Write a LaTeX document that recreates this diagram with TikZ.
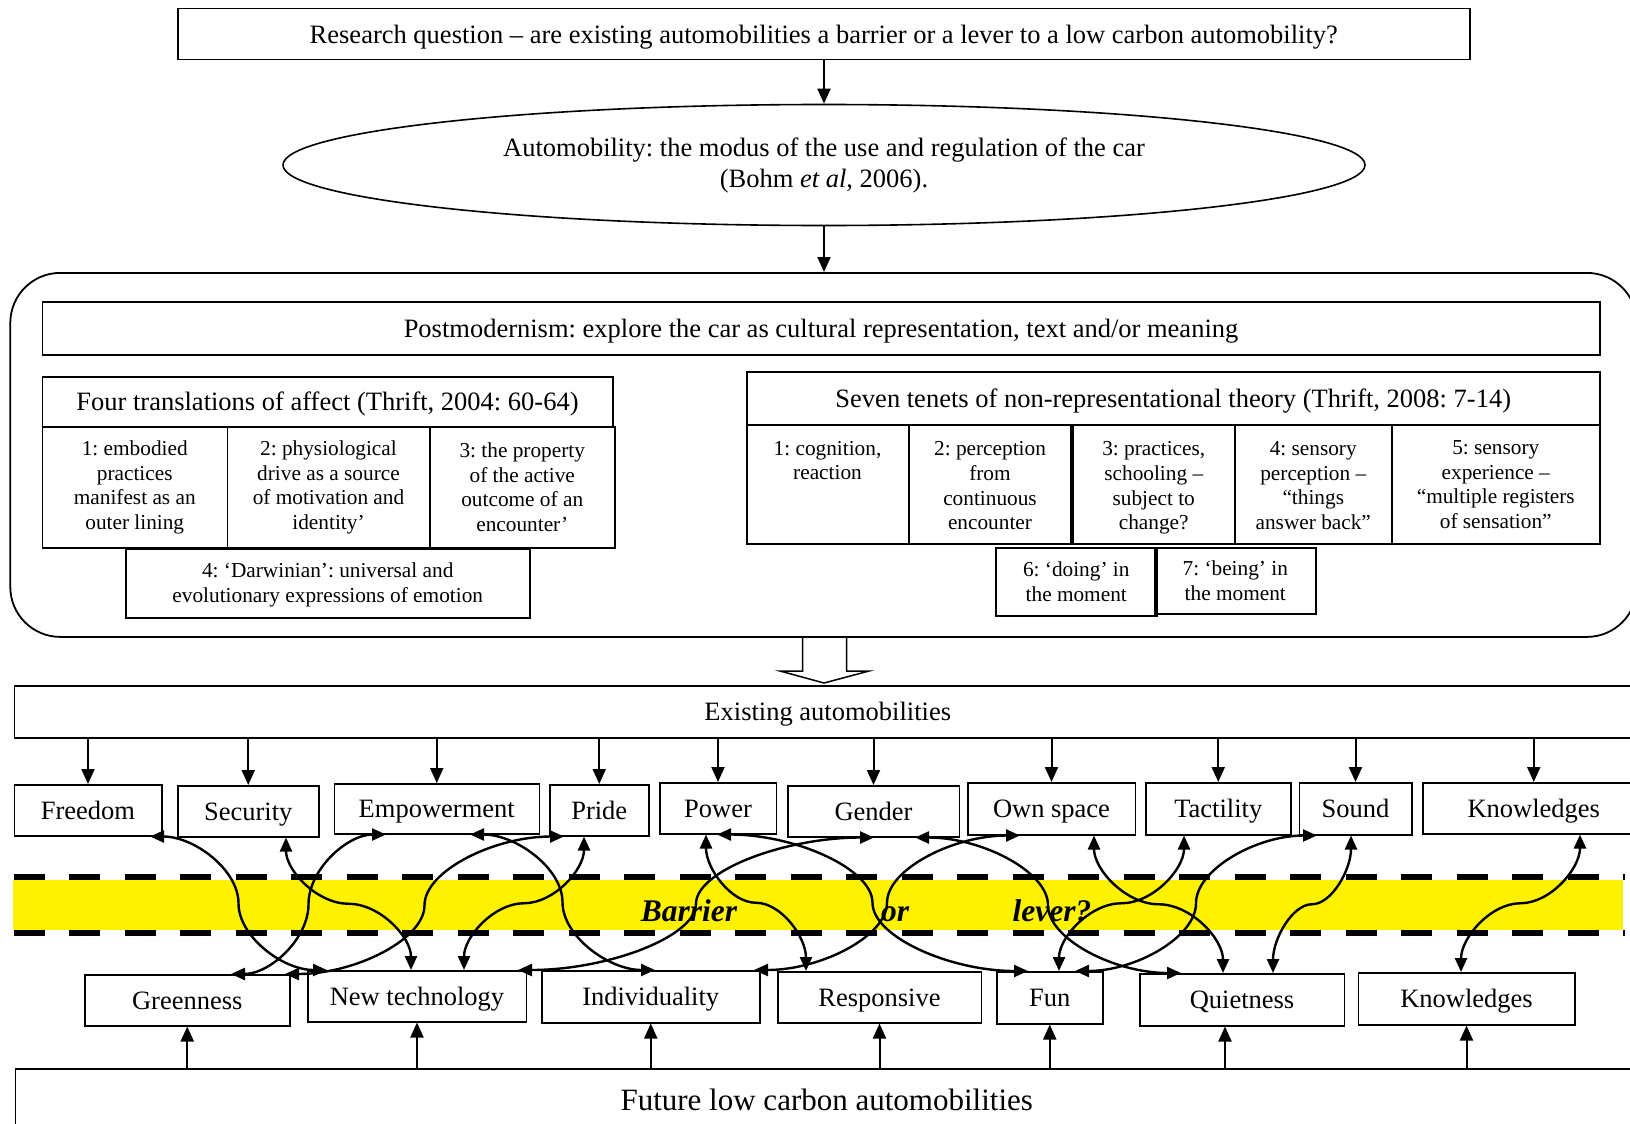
\documentclass[tikz,border=0pt]{standalone}
\usepackage{fontspec}
\setmainfont{Liberation Serif}
\usetikzlibrary{arrows.meta,shapes.geometric,calc}
\frenchspacing
\newcommand\fmain{\fontsize{26.5}{31}\selectfont}
\newcommand\fsmall{\fontsize{21.3}{24.6}\selectfont}
\newcommand\fbar{\fontsize{31.5}{36}\selectfont\bfseries\itshape}
\newcommand\ffut{\fontsize{31}{36}\selectfont}
\newcommand\connH[2]{\draw[curv] let \p1=(#1), \p2=(#2) in (\p1) .. controls ({(3*\x1+\x2)/4},\y1) and ({(\x1+\x2)/2},{(3*\y1+\y2)/4}) .. ({(\x1+\x2)/2},{(\y1+\y2)/2}) .. controls ({(\x1+\x2)/2},{(\y1+3*\y2)/4}) and ({(\x1+3*\x2)/4},\y2) .. (\p2);}
\newcommand\connV[2]{\draw[curv] let \p1=(#1), \p2=(#2) in (\p1) .. controls (\x1,{(3*\y1+\y2)/4}) and ({(3*\x1+\x2)/4},{(\y1+\y2)/2}) .. ({(\x1+\x2)/2},{(\y1+\y2)/2}) .. controls ({(\x1+3*\x2)/4},{(\y1+\y2)/2}) and (\x2,{(\y1+3*\y2)/4}) .. (\p2);}
\tikzset{
  box/.style={draw, line width=1.5pt, inner sep=0pt, anchor=north west, align=center},
  kw/.style={box, font=\fmain, text height=24pt, text depth=6pt},
  sm/.style={box, font=\fsmall},
  tx/.style={font=\fsmall, align=center, anchor=north, inner sep=0pt},
  bar/.style={font=\fbar, inner sep=0pt, anchor=base},
  varr/.style={line width=2pt, -{Triangle[length=15pt,width=13pt]}},
  curv/.style={line width=2.4pt, {Triangle[length=14pt,width=12pt]}-{Triangle[length=14pt,width=12pt]}},
}
\begin{document}
\begin{tikzpicture}[x=1pt,y=-1pt]
\useasboundingbox (0,0) rectangle (1630,1124);
\fill[white] (0,0) rectangle (1630,1124);
\clip (0,0) rectangle (1630,1124);

% top
\node[kw, minimum width=1292, minimum height=51] (rq) at (177,8) {Research question – are existing automobilities a barrier or a lever to a low carbon automobility?};
\node[draw, ellipse, line width=1.6pt, minimum width=1082, minimum height=121, inner sep=0pt, font=\fmain, align=center] (auto) at (824,165) {Automobility: the modus of the use and regulation of the car\\(Bohm \textit{et al}, 2006).};

% hollow arrow
\draw[line width=1.5pt, fill=white, line join=miter] (802.5,637.5) -- (802.5,671) -- (780,671) -- (824,683) -- (869,671) -- (846.5,671) -- (846.5,637.5);

% container
\node[draw, line width=1.8pt, rounded corners=50pt, minimum width=1626.6, minimum height=364, anchor=north west, inner sep=0pt] (post) at (9.4,272) {};
\draw[varr] (rq.south -| auto.north) -- (auto.north);
\draw[varr] (auto.south) -- (auto.south |- post.north);

\node[kw, minimum width=1557.5, minimum height=53] (pm) at (41.5,301) {Postmodernism: explore the car as cultural representation, text and/or meaning};

\node[kw, minimum width=570.5, minimum height=50] (fh) at (41.5,376) {Four translations of affect (Thrift, 2004: 60-64)};
\node[sm, minimum width=185, minimum height=121] (f1) at (41.5,426) {1: embodied\\practices\\manifest as an\\outer lining};
\node[sm, minimum width=202.5, minimum height=121] (f2) at (226.5,426) {2: physiological\\drive as a source\\of motivation and\\identity’};
\node[sm, minimum width=185, minimum height=121] (f3) at (429,426) {3: the property\\of the active\\outcome of an\\encounter’};
\node[sm, minimum width=404, minimum height=69] (f4) at (125,548) {};
\node[tx] (f4t) at ([yshift=-15pt]f4.north) {4: ‘Darwinian’: universal and\\evolutionary expressions of emotion};

\node[kw, minimum width=853, minimum height=53] (sh) at (746,371) {Seven tenets of non-representational theory (Thrift, 2008: 7-14)};
\node[sm, minimum width=161.5, minimum height=119] (s1) at (746,424) {};
\node[tx] (s1t) at ([yshift=-17pt]s1.north) {1: cognition,\\reaction};
\node[sm, minimum width=161.5, minimum height=119] (s2) at (908.5,424) {};
\node[tx] (s2t) at ([yshift=-17.5pt]s2.north) {2: perception\\from\\continuous\\encounter};
\node[sm, minimum width=162, minimum height=119] (s3) at (1072,424) {};
\node[tx] (s3t) at ([yshift=-17.5pt]s3.north) {3: practices,\\schooling –\\subject to\\change?};
\node[sm, minimum width=157, minimum height=119] (s4) at (1234,424) {};
\node[tx] (s4t) at ([yshift=-17.5pt]s4.north) {4: sensory\\perception –\\“things\\answer back”};
\node[sm, minimum width=208, minimum height=119] (s5) at (1391,424) {};
\node[tx] (s5t) at ([yshift=-16.5pt]s5.north) {5: sensory\\experience –\\“multiple registers\\of sensation”};
\node[sm, minimum width=161, minimum height=68] (s6) at (995,547) {6: ‘doing’ in\\the moment};
\node[sm, minimum width=161, minimum height=66] (s7) at (1154,547) {7: ‘being’ in\\the moment};

% existing
\node[kw, minimum width=1627, minimum height=52] (ex) at (13.5,685) {Existing automobilities};

\node[kw, minimum width=147.5, minimum height=51] (freedom) at (13.5,784) {Freedom};
\node[kw, minimum width=141, minimum height=51] (security) at (177,785) {Security};
\node[kw, minimum width=205, minimum height=50] (empower) at (333.5,783) {Empowerment};
\node[kw, minimum width=99, minimum height=51] (pride) at (549,784) {Pride};
\node[kw, minimum width=116.5, minimum height=51] (power) at (659,782) {Power};
\node[kw, minimum width=171.5, minimum height=51] (gender) at (787,785) {Gender};
\node[kw, minimum width=167.5, minimum height=52] (ownspace) at (967,782) {Own space};
\node[kw, minimum width=145, minimum height=52] (tactility) at (1145,782) {Tactility};
\node[kw, minimum width=112.5, minimum height=52] (sound) at (1298.5,782) {Sound};
\node[kw, minimum width=222, minimum height=51] (know) at (1422,782) {Knowledges};

\foreach \n in {freedom,security,empower,pride,power,gender,ownspace,tactility,sound,know}
  \draw[varr] (\n.north |- ex.south) -- (\n.north);

% band
\fill[yellow] (13,880) rectangle (1623,930);
\draw[line width=6pt, dash pattern=on 31pt off 24.5pt] (13.5,877) -- (1625,877);
\draw[line width=6pt, dash pattern=on 31pt off 24.5pt] (13.5,932.5) -- (1625,932.5);
\node[bar] (tbar) at (689,921) {Barrier};
\node[bar] (tor) at (895,921) {or};
\node[bar] (tlev) at (1052,921) {lever?};

% bottom row
\node[kw, minimum width=205, minimum height=51] (green) at (84,974) {Greenness};
\node[kw, minimum width=218.5, minimum height=51] (newtech) at (307,970) {New technology};
\node[kw, minimum width=218, minimum height=52] (indiv) at (541,970) {Individuality};
\node[kw, minimum width=203.5, minimum height=51] (resp) at (777,971) {Responsive};
\node[kw, minimum width=106, minimum height=52] (fun) at (996,971) {Fun};
\node[kw, minimum width=204.5, minimum height=52] (quiet) at (1139,973) {Quietness};
\node[kw, minimum width=216.5, minimum height=52] (know2) at (1357.5,972) {Knowledges};

\node[box, font=\ffut, minimum width=1623, minimum height=62] (future) at (14.5,1068) {Future low carbon automobilities};

\foreach \n in {green,newtech,indiv,resp,fun,know2}
  \draw[varr] (\n.south |- future.north) -- (\n.south);
\draw[varr] (future.north -| 1225,0) -- (quiet.south -| 1225,0);

% curved connectors
\connH{freedom.south -| 150,0}{newtech.north -| 327,0}
\connV{security.south -| 286,0}{newtech.north -| 411,0}
\connH{empower.south -| 386,0}{green.north -| 231,0}
\connH{pride.south -| 564,0}{green.north -| 285,0}
\connV{pride.south -| 584,0}{newtech.north -| 464,0}
\connH{empower.south -| 470,0}{indiv.north -| 655,0}
\connH{gender.south -| 874,0}{newtech.north -| 518,0}
\connV{power.south -| 706,0}{resp.north -| 806,0}
\connH{power.south -| 717,0}{fun.north -| 1028,0}
\connH{gender.south -| 915,0}{quiet.north -| 1181,0}
\connH{ownspace.south -| 1020,0}{indiv.north -| 754,0}
\connV{ownspace.south -| 1094,0}{quiet.north -| 1223,0}
\connV{tactility.south -| 1184,0}{fun.north -| 1059,0}
\connH{sound.south -| 1317,0}{fun.north -| 1075,0}
\connV{sound.south -| 1351,0}{quiet.north -| 1273,0}
\connV{know.south -| 1580,0}{know2.north -| 1461,0}
\end{tikzpicture}
\end{document}
